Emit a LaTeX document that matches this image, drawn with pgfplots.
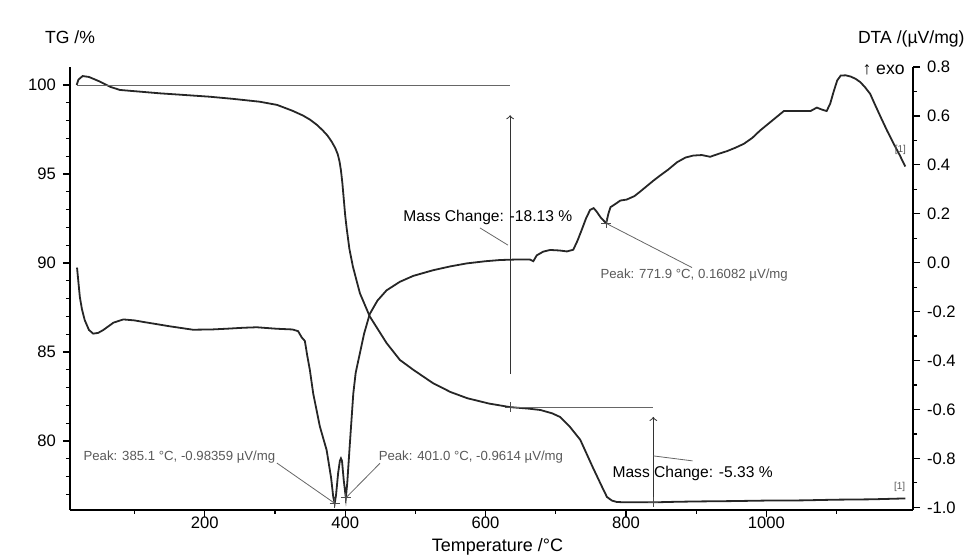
\documentclass[border=0pt]{standalone}
\usepackage{fontspec}
\setmainfont{Liberation Sans}
\usepackage{pgfplots}
\pgfplotsset{compat=1.18}

% TG (left) and DTA (right) share one frame; 1 px of the scan = 0.5pt
\pgfplotsset{
  tgdta/.style={
    at={(35pt,22.5pt)}, anchor=south west,
    scale only axis, width=421.5pt, height=221.5pt,
    xmin=8, xmax=1209,
    clip=false,
    axis line style={-, line width=0.7pt},
    tick align=outside,
    major tick length=3.5pt, minor tick length=2pt,
    every tick/.style={line width=0.6pt, black},
    ticklabel style={font=\fontsize{8.3}{9}\selectfont},
    xticklabel style={inner sep=1pt, yshift=1pt},
    /pgf/number format/assume math mode=true,
    /pgf/number format/1000 sep={},
  },
  curve/.style={line width=0.9pt, black!85, no markers},
}
\tikzset{
  note/.style={line width=0.4pt, black!60},
  peaktxt/.style={font=\fontsize{6.6}{7}\selectfont, text=black!65, inner sep=0pt},
  masstxt/.style={font=\fontsize{7.8}{8}\selectfont, inner sep=0pt},
  tagtxt/.style={font=\fontsize{5}{5}\selectfont, text=black!65, inner sep=0pt},
}

\begin{document}
\begin{tikzpicture}
\useasboundingbox (0,0) rectangle (486pt,277.5pt);

% ---- TG curve, left axis
\begin{axis}[tgdta,
  ymin=76.12, ymax=101.01,
  axis x line*=bottom, axis y line*=left,
  xtick={200,400,600,800,1000},
  minor xtick={100,300,500,700,900,1100},
  ytick={80,85,90,95,100},
  minor ytick={77,78,79,81,82,83,84,86,87,88,89,91,92,93,94,96,97,98,99},
]
\addplot[curve] coordinates {
  (17.5,100.0) (20,100.3) (26,100.5) (35,100.45) (50,100.2) (65,99.9)
  (79,99.72) (100,99.65) (136,99.53) (170,99.44) (207,99.34) (240,99.22)
  (278,99.06) (303,98.88) (325,98.55) (340,98.28) (350,98.05) (360,97.75)
  (368,97.45) (375,97.15) (381,96.8) (386,96.45) (389.5,96.1) (392,95.7)
  (394,95.2) (396,94.5) (398,93.6) (400,92.7) (402,92.0) (406,90.8)
  (411,89.8) (421,88.3) (435,87.0) (459,85.5) (478,84.55) (497,84.0)
  (525,83.25) (550,82.75) (574,82.4) (605,82.1) (635,81.9) (660,81.82)
  (678,81.74) (695,81.55) (706,81.35) (720,80.8) (735,80.06) (753,78.5)
  (765,77.5) (773,76.85) (780,76.65) (787,76.57) (800,76.55) (820,76.56)
  (839,76.55) (870,76.58) (900,76.6) (950,76.62) (1000,76.65) (1050,76.66)
  (1100,76.7) (1150,76.72) (1198,76.77)
};
% mass change steps
\draw[note] (axis cs:17.5,100) -- (axis cs:635,100);
\draw[black!80, line width=0.5pt, ->] (axis cs:635,83.75) -- (axis cs:635,98.3);
\draw[note] (axis cs:592,91.97) -- (axis cs:632,91.0);
\node[masstxt, anchor=west] at (axis cs:482.4,92.53) {Mass Change: -18.13 \%};
\draw[note] (axis cs:635,81.87) -- (axis cs:839,81.87);
\draw[black!80, line width=0.5pt, ->] (axis cs:839,76.35) -- (axis cs:839,81.35);
\draw[note] (axis cs:839,79.16) -- (axis cs:894.8,78.88);
\node[masstxt, anchor=west] at (axis cs:780.4,78.2) {Mass Change: -5.33 \%};
\addplot[only marks, mark=+, mark size=2.5pt, black!70] coordinates {(635,81.9) (839,76.55)};
\node[tagtxt] at (axis cs:1190,77.39) {[1]};
\end{axis}

% ---- DTA curve, right axis
\begin{axis}[tgdta,
  ymin=-1.011, ymax=0.8,
  axis x line=none, axis y line*=right,
  ytick={-1,-0.8,-0.6,-0.4,-0.2,0,0.2,0.4,0.6,0.8},
  minor ytick={-0.9,-0.7,-0.5,-0.3,-0.1,0.1,0.3,0.5,0.7},
  yticklabel style={/pgf/number format/fixed, /pgf/number format/fixed zerofill,
    /pgf/number format/precision=1},
]
\addplot[curve] coordinates {
  (18,-0.02) (20,-0.08) (22,-0.14) (25,-0.19) (29,-0.235) (35,-0.275)
  (41,-0.29) (48,-0.287) (55,-0.276) (70,-0.245) (84,-0.232) (100,-0.236)
  (112,-0.242) (150,-0.26) (183,-0.274) (210,-0.273) (231,-0.27)
  (255,-0.266) (274,-0.264) (302,-0.27) (325,-0.273) (333,-0.28)
  (338,-0.305) (342.6,-0.32) (346,-0.38) (349.8,-0.44) (354.5,-0.535)
  (364,-0.67) (373.6,-0.766) (380,-0.88) (383,-0.957) (385.1,-0.9836)
  (387,-0.95) (390,-0.86) (392.5,-0.81) (394,-0.80) (395.5,-0.81)
  (398,-0.89) (401.0,-0.9614) (403,-0.90) (406.8,-0.736) (411.6,-0.535)
  (415,-0.45) (421,-0.37) (427,-0.29) (435,-0.21) (446,-0.155)
  (459,-0.113) (478,-0.078) (497,-0.054) (525,-0.031) (550,-0.015)
  (573,-0.003) (600,0.006) (621,0.011) (645,0.013) (663,0.013)
  (668,0.006) (673,0.03) (682,0.045) (692,0.052) (705,0.05) (716,0.046)
  (725,0.053) (731,0.09) (737,0.134) (743,0.18) (749,0.216) (754,0.223)
  (758,0.21) (764,0.185) (771.9,0.1608) (775,0.2) (778,0.227) (785,0.24)
  (792,0.254) (801,0.258) (812,0.272) (820,0.29) (839,0.335) (849,0.357)
  (860,0.38) (873,0.411) (885,0.43) (896,0.438) (908,0.44) (920,0.433)
  (932,0.445) (944,0.456) (956,0.47) (968,0.486) (980,0.51) (991,0.54)
  (1008,0.58) (1025,0.62) (1040,0.62) (1055,0.62) (1063,0.62)
  (1072,0.634) (1080,0.625) (1086,0.62) (1091,0.65) (1096,0.70)
  (1101,0.745) (1106,0.765) (1113,0.766) (1120,0.761) (1127,0.752)
  (1134,0.738) (1141,0.716) (1148,0.69) (1155,0.645) (1163,0.595)
  (1172,0.54) (1181.5,0.486) (1190,0.44) (1198,0.393)
};
% peak picks
\addplot[only marks, mark=+, mark size=2.5pt, black!70]
  coordinates {(385.1,-0.98359) (401.0,-0.9614) (771.9,0.16082)};
\draw[note] (axis cs:302.7,-0.819) -- (axis cs:385.1,-0.9836);
\node[peaktxt, anchor=east] at (axis cs:301,-0.7945) {Peak: 385.1 °C, -0.98359 µV/mg};
\draw[note] (axis cs:449.6,-0.820) -- (axis cs:401.0,-0.9614);
\node[peaktxt, anchor=west] at (axis cs:447.3,-0.7945) {Peak: 401.0 °C, -0.9614 µV/mg};
\draw[note] (axis cs:894.1,-0.0199) -- (axis cs:771.9,0.1608);
\node[peaktxt, anchor=west] at (axis cs:763.3,-0.0514) {Peak: 771.9 °C, 0.16082 µV/mg};
\node[tagtxt] at (axis cs:1191,0.46) {[1]};
\end{axis}

% axis titles
\node[font=\fontsize{8.8}{10}\selectfont] at (35pt,258.75pt) {TG /\%};
\node[font=\fontsize{8.8}{10}\selectfont, anchor=east, inner sep=0pt] at (482.5pt,258pt) {DTA /(µV/mg)};
\node[font=\fontsize{8.8}{10}\selectfont, anchor=east, inner sep=0pt] at (452.5pt,242.5pt) {↑ exo};
\node[font=\fontsize{9}{10}\selectfont, inner sep=0pt] at (248.75pt,4.3pt) {Temperature /°C};
\end{tikzpicture}
\end{document}
